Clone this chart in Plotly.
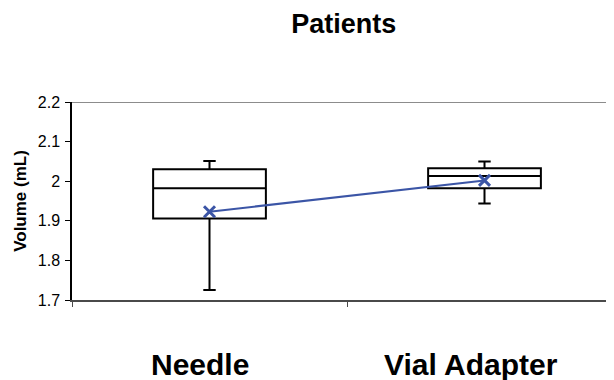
import plotly.graph_objects as go

categories = ["Needle", "Vial Adapter"]
upper_whisker = [2.051, 2.050]
q3_values = [2.030, 2.033]
median_values = [1.982, 2.013]
q1_values = [1.906, 1.982]
lower_whisker = [1.725, 1.944]
mean_values = [1.923, 2.002]
y_ticks = [1.7, 1.8, 1.9, 2.0, 2.1, 2.2]
y_tick_labels = ["1.7", "1.8", "1.9", "2", "2.1", "2.2"]
label_shift = [-10, -14]

fig = go.Figure()
fig.add_trace(go.Box(
    x=categories,
    q1=q1_values, median=median_values, q3=q3_values,
    lowerfence=lower_whisker, upperfence=upper_whisker,
    width=0.41, whiskerwidth=0.11,
    fillcolor="white",
    line=dict(color="black", width=2),
    boxpoints=False, hoverinfo="skip", showlegend=False,
))
fig.add_trace(go.Scatter(
    x=categories, y=mean_values, mode="lines+markers",
    line=dict(color="#3B55A6", width=2),
    marker=dict(symbol="x-thin", size=11, line=dict(color="#3B55A6", width=3)),
    showlegend=False,
))

fig.add_shape(type="line", xref="paper", yref="y", x0=0, x1=1, y0=2.2, y1=2.2,
              line=dict(color="#8c8c8c", width=2), layer="below")

for cat, shift in zip(categories, label_shift):
    fig.add_annotation(x=cat, xref="x", y=-0.328, yref="paper", yanchor="middle",
                       text=f"<b>{cat}</b>", showarrow=False, xshift=shift,
                       font=dict(size=30, color="black"))

fig.update_layout(
    width=614, height=380,
    margin=dict(l=64, r=0, t=94, b=88),
    paper_bgcolor="white", plot_bgcolor="white",
    font=dict(family="Liberation Sans, Arial, sans-serif", color="black"),
    title=dict(text="<b>Patients</b>", x=0.547, xanchor="center", y=0.958, yanchor="middle",
               font=dict(size=27, color="black")),
    xaxis=dict(
        type="category", range=[-0.5, 1.5], automargin=False,
        showline=True, linecolor="#4a4a4a", linewidth=2,
        ticks="outside", tickson="boundaries", ticklen=5, tickcolor="#4a4a4a", tickwidth=1,
        showgrid=False, zeroline=False, showticklabels=False,
    ),
    yaxis=dict(
        range=[1.7, 2.2], tickvals=y_ticks, ticktext=y_tick_labels, automargin=False,
        showline=True, linecolor="black", linewidth=1.5,
        ticks="outside", ticklen=5, tickcolor="black", tickwidth=1,
        showgrid=False, zeroline=False,
        tickfont=dict(size=16, color="black"),
        ticklabelstandoff=2,
        title=dict(text="<b>Volume (mL)</b>", font=dict(size=17, color="black"), standoff=7),
    ),
)

fig.write_html("out.html")
